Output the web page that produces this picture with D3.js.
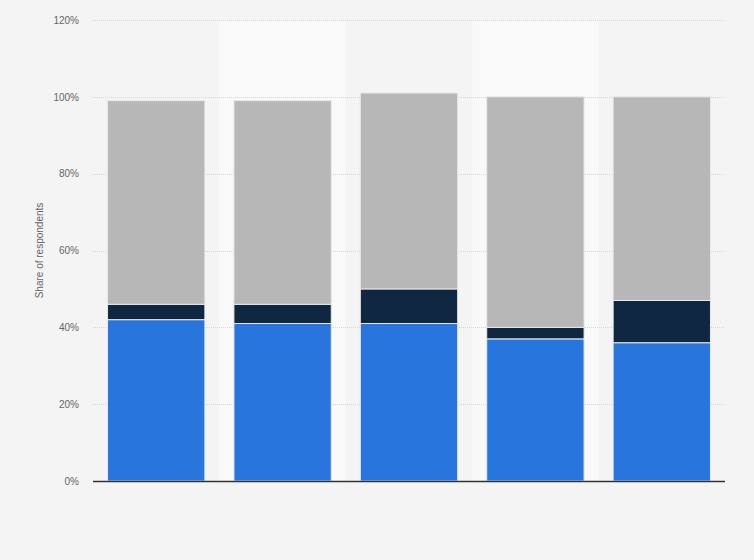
<!DOCTYPE html>
<html>
<head>
<meta charset="utf-8">
<script src="https://cdn.jsdelivr.net/npm/d3@7"></script>
<style>
  html, body { margin: 0; padding: 0; background: #f4f4f4; }
  svg { display: block; }
</style>
</head>
<body>
<svg id="chart" width="754" height="560"></svg>
<script>
const categories = ["1", "2", "3", "4", "5"];
const seriesNames = ["Series A", "Series B", "Series C"];
const seriesA = [42, 41, 41, 37, 36];
const seriesB = [4, 5, 9, 3, 11];
const seriesC = [53, 53, 51, 60, 53];
const yTicks = [0, 20, 40, 60, 80, 100, 120];
const colors = ["#2876dd", "#0f2740", "#b7b7b7"];

const W = 754, H = 560;
const margin = { left: 93, right: 29, top: 20, bottom: 79 };
const svg = d3.select("#chart");
const iw = W - margin.left - margin.right;
const ih = H - margin.top - margin.bottom;
const g = svg.append("g").attr("transform", `translate(${margin.left},${margin.top})`);

const x = d3.scaleBand().domain(categories).range([0, iw]).padding(0);
const barW = x.bandwidth() * 0.77;
const y = d3.scaleLinear().domain([0, 120]).range([ih, 0]);

// alternating bands
g.selectAll("rect.band").data(categories.filter((d, i) => i % 2 === 1))
  .join("rect").attr("class", "band")
  .attr("x", d => x(d)).attr("width", x.bandwidth())
  .attr("y", 0).attr("height", ih)
  .attr("fill", "#f9f9f9");

// gridlines
g.selectAll("line.grid").data(yTicks.filter(t => t > 0))
  .join("line").attr("class", "grid")
  .attr("x1", 0).attr("x2", iw)
  .attr("y1", d => Math.round(y(d)) + 0.5).attr("y2", d => Math.round(y(d)) + 0.5)
  .attr("stroke", "#d6d6d6").attr("stroke-width", 1).attr("stroke-dasharray", "1,1");

// stacked data
const rows = categories.map((c, i) => ({ cat: c, a: seriesA[i], b: seriesB[i], c: seriesC[i] }));
const stack = d3.stack().keys(["a", "b", "c"])(rows);

g.selectAll("g.series").data(stack).join("g").attr("class", "series")
  .attr("fill", (d, i) => colors[i])
  .selectAll("rect").data(d => d).join("rect")
  .attr("x", d => x(d.data.cat) + (x.bandwidth() - barW) / 2)
  .attr("width", barW)
  .attr("y", d => y(d[1]))
  .attr("height", d => y(d[0]) - y(d[1]))
  .attr("stroke", "#e8e8e8").attr("stroke-width", 1);

// axis line
g.append("line").attr("x1", 0).attr("x2", iw)
  .attr("y1", ih + 0.5).attr("y2", ih + 0.5)
  .attr("stroke", "#333").attr("stroke-width", 1.5);

// y axis labels
const yAxis = d3.axisLeft(y).tickValues(yTicks).tickFormat(d => d + "%").tickSize(0).tickPadding(14);
const ya = g.append("g").call(yAxis);
ya.select(".domain").remove();
ya.selectAll("text").attr("fill", "#666").style("font-family", "Arial, 'Liberation Sans', sans-serif").style("font-size", "10px");

// y title
svg.append("text")
  .attr("transform", `translate(43,${margin.top + ih / 2}) rotate(-90)`)
  .attr("text-anchor", "middle")
  .attr("fill", "#666")
  .style("font-family", "Arial, 'Liberation Sans', sans-serif")
  .style("font-size", "10px")
  .text("Share of respondents");
</script>
</body>
</html>
